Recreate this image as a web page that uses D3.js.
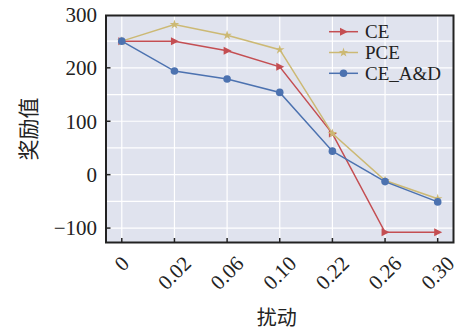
<!DOCTYPE html>
<html><head><meta charset="utf-8">
<script src="https://cdn.jsdelivr.net/npm/d3@7"></script>
<style>body{margin:0;background:#fff}svg{display:block}</style>
</head><body>
<svg id="c" width="465" height="329"></svg>
<script>
const categories = ["0","0.02","0.06","0.10","0.22","0.26","0.30"];
const ceValues = [250, 250, 232, 202, 77, -108, -108];
const pceValues = [250, 281, 261, 234, 77, -11, -45];
const ceadValues = [250, 194, 179, 154, 44, -13, -51];
const yTicks = [-100, 0, 100, 200, 300];
const yGrid = [-100, -50, 0, 50, 100, 150, 200, 250];
const seriesNames = ["CE", "PCE", "CE_A&D"];

const svg = d3.select("#c");
const L = 106, R = 453.5, T = 15.5, B = 242.5;
const serif = "'Liberation Serif','Times New Roman',serif";
const cjk = "'Noto Sans CJK SC',sans-serif";

const x = d3.scalePoint().domain(categories).range([L, R]).padding(0.3);
const y = d3.scaleLinear().domain([-127, 298]).range([B, T]);

svg.append("rect").attr("x", L).attr("y", T).attr("width", R - L).attr("height", B - T).attr("fill", "#e0e3ee");

const g = svg.append("g");
g.selectAll(".hg").data(yGrid).join("line")
  .attr("x1", L).attr("x2", R).attr("y1", d => y(d)).attr("y2", d => y(d))
  .attr("stroke", "#fff").attr("stroke-width", 1.2);
g.selectAll(".vg").data(categories).join("line")
  .attr("y1", T).attr("y2", B).attr("x1", d => x(d)).attr("x2", d => x(d))
  .attr("stroke", "#fff").attr("stroke-width", 1.2);

const series = [
  {name: seriesNames[0], values: ceValues, color: "#c44e52", marker: "tri"},
  {name: seriesNames[1], values: pceValues, color: "#ccb974", marker: "star"},
  {name: seriesNames[2], values: ceadValues, color: "#4c72b0", marker: "circle"}
];

function drawMarker(sel, type, color) {
  if (type === "tri") {
    sel.append("path").attr("d", "M-3.5,-4L4.5,0L-3.5,4Z").attr("fill", color);
  } else if (type === "star") {
    sel.append("path").attr("d", d3.symbol(d3.symbolStar, 28)()).attr("fill", color);
  } else {
    sel.append("circle").attr("r", 3.8).attr("fill", color);
  }
}

const line = d3.line().x((d, i) => x(categories[i])).y(d => y(d));
series.forEach(s => {
  svg.append("path").datum(s.values).attr("d", line)
    .attr("fill", "none").attr("stroke", s.color).attr("stroke-width", 1.5);
  s.values.forEach((v, i) => {
    const m = svg.append("g").attr("transform", `translate(${x(categories[i])},${y(v)})`);
    drawMarker(m, s.marker, s.color);
  });
});

// spines
svg.append("rect").attr("x", L).attr("y", T).attr("width", R - L).attr("height", B - T)
  .attr("fill", "none").attr("stroke", "#222").attr("stroke-width", 2);

// y ticks (inward)
yTicks.forEach(t => {
  if (t < 300) svg.append("line").attr("x1", L).attr("x2", L + 4.5).attr("y1", y(t)).attr("y2", y(t))
    .attr("stroke", "#222").attr("stroke-width", 1.5);
  svg.append("text").attr("x", 97).attr("y", y(t)).attr("dy", "0.35em")
    .attr("text-anchor", "end").attr("font-family", serif).attr("font-size", 21).attr("fill", "#222")
    .text(t < 0 ? "\u2212" + Math.abs(t) : String(t));
});

// x ticks (inward) and rotated labels
categories.forEach(c => {
  svg.append("line").attr("x1", x(c)).attr("x2", x(c)).attr("y1", B).attr("y2", B - 4.5)
    .attr("stroke", "#222").attr("stroke-width", 1.5);
  const t = svg.append("text").attr("font-family", serif).attr("font-size", 21).attr("fill", "#222")
    .attr("text-anchor", "middle").attr("dominant-baseline", "central").text(c);
  const w = t.node().getComputedTextLength();
  const h = (w + 14) * Math.SQRT1_2;
  t.attr("transform", `translate(${x(c)},${255 + h / 2}) rotate(-45)`);
});

// axis titles
svg.append("text").attr("x", (L + R) / 2 - 3).attr("y", 316).attr("dominant-baseline", "central")
  .attr("text-anchor", "middle").attr("font-family", cjk).attr("font-size", 20).attr("fill", "#222").text("扰动");
svg.append("text").attr("transform", `translate(27,${(T + B) / 2}) rotate(-90)`).attr("dominant-baseline", "central")
  .attr("text-anchor", "middle").attr("font-family", cjk).attr("font-size", 21).attr("fill", "#222").text("奖励值");

// legend
series.forEach((s, i) => {
  const ly = 31.7 + i * 20.8;
  svg.append("line").attr("x1", 329).attr("x2", 358).attr("y1", ly).attr("y2", ly)
    .attr("stroke", s.color).attr("stroke-width", 1.5);
  const m = svg.append("g").attr("transform", `translate(343.5,${ly})`);
  drawMarker(m, s.marker, s.color);
  svg.append("text").attr("x", 365).attr("y", ly).attr("dy", "0.35em")
    .attr("font-family", serif).attr("font-size", 19).attr("fill", "#222").text(s.name);
});
</script>
</body></html>
